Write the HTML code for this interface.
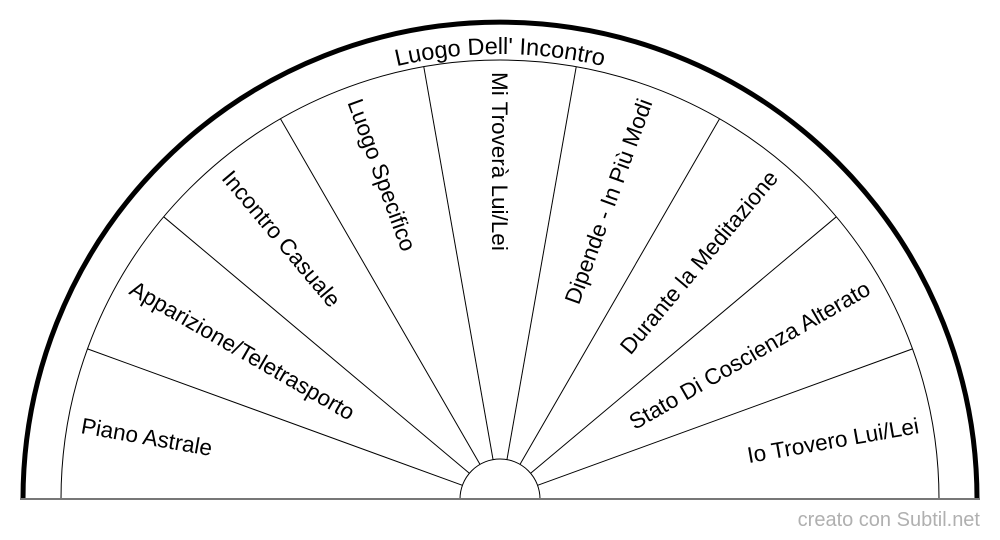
<!DOCTYPE html>
<html><head><meta charset="utf-8"><style>
html,body{margin:0;padding:0;background:#fff;}
svg{display:block;}
text{font-family:"Liberation Sans",sans-serif;}
</style></head><body>
<svg width="1000" height="540" viewBox="0 0 1000 540" xmlns="http://www.w3.org/2000/svg">
<rect width="1000" height="540" fill="#fff"/>
<g transform="translate(500,499)">
  <path d="M-477,0 A477,477 0 0 1 477,0" fill="none" stroke="#000" stroke-width="5"/>
  <path d="M-439,0 A439,439 0 0 1 439,0" fill="none" stroke="#000" stroke-width="1"/>
  <path d="M-40,0 A40,40 0 0 1 40,0" fill="none" stroke="#000" stroke-width="1"/>
  <line x1="-480" y1="0" x2="480" y2="0" stroke="#777" stroke-width="2"/>
  <g stroke="#000" stroke-width="1">
    <line x1="-40" y1="0" x2="-439" y2="0" transform="rotate(20)"/>
    <line x1="-40" y1="0" x2="-439" y2="0" transform="rotate(40)"/>
    <line x1="-40" y1="0" x2="-439" y2="0" transform="rotate(60)"/>
    <line x1="-40" y1="0" x2="-439" y2="0" transform="rotate(80)"/>
    <line x1="-40" y1="0" x2="-439" y2="0" transform="rotate(100)"/>
    <line x1="-40" y1="0" x2="-439" y2="0" transform="rotate(120)"/>
    <line x1="-40" y1="0" x2="-439" y2="0" transform="rotate(140)"/>
    <line x1="-40" y1="0" x2="-439" y2="0" transform="rotate(160)"/>
  </g>
  <g font-size="22.5" fill="#000">
    <text transform="rotate(10) translate(-425,0)" dy="0.35em">Piano Astrale</text>
    <text transform="rotate(30) translate(-425,0)" dy="0.35em">Apparizione/Teletrasporto</text>
    <text transform="rotate(50) translate(-425,0)" dy="0.35em">Incontro Casuale</text>
    <text transform="rotate(70) translate(-425,0)" dy="0.35em">Luogo Specifico</text>
    <text transform="rotate(90) translate(-427,0)" dy="0.35em">Mi Troverà Lui/Lei</text>
    <text transform="rotate(-70) translate(425,0)" dy="0.35em" text-anchor="end">Dipende - In Più Modi</text>
    <text transform="rotate(-50) translate(425,0)" dy="0.35em" text-anchor="end">Durante la Meditazione</text>
    <text transform="rotate(-30) translate(425,0)" dy="0.35em" text-anchor="end">Stato Di Coscienza Alterato</text>
    <text transform="rotate(-10) translate(425,0)" dy="0.35em" text-anchor="end">Io Trovero Lui/Lei</text>
  </g>
  <path id="tp" d="M-445,0 A445,445 0 0 1 445,0" fill="none"/>
  <text font-size="23.5"><textPath href="#tp" startOffset="50%" text-anchor="middle">Luogo Dell' Incontro</textPath></text>
</g>
<text x="980" y="526" font-size="20" fill="#b0b0b0" text-anchor="end">creato con Subtil.net</text>
</svg>
</body></html>
